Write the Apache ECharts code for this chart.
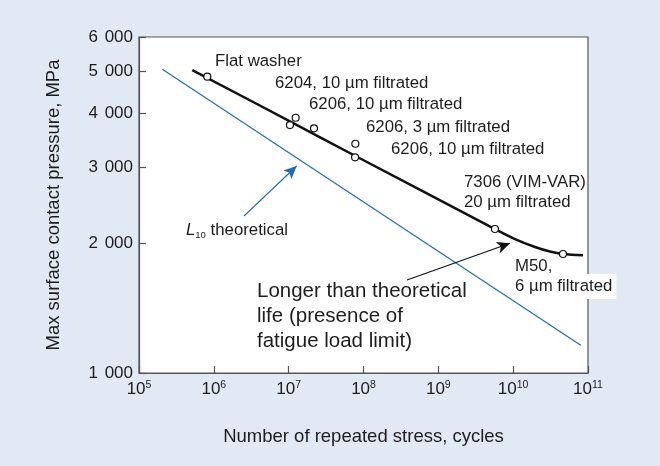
<!DOCTYPE html>
<html>
<head>
<meta charset="utf-8">
<script src="https://cdn.jsdelivr.net/npm/echarts@6/dist/echarts.min.js"></script>
<style>
  html, body { margin: 0; padding: 0; background: #e1e9f4; }
  #chart { width: 660px; height: 466px; }
</style>
</head>
<body>
<div id="chart"></div>
<script>
// Rolling contact fatigue: max contact pressure vs. number of stress cycles
const FONT = '"Liberation Sans", Arial, Helvetica, sans-serif';
const TEXT = '#1d1d1d';

// Experimental fatigue curve
const curveCycles   = [5.15e5, 1.04e7, 7.7e7, 5.71e9, 1.06e10, 1.96e10, 3.10e10, 4.63e10, 8.57e10];
const curvePressure = [5031,   3826,   3185,  2155,   2043,    1958,    1911,    1886,    1874];

// Individual test results
const testCycles   = [8.18e5, 1.24e7, 1.04e7, 2.18e7, 7.78e7, 7.71e7, 5.71e9, 4.63e10];
const testPressure = [4857,   3901,   3752,   3686,   3396,   3159,   2155,   1886];

// Theoretical L10 life line
const l10Cycles   = [2.05e5, 8.0e10];
const l10Pressure = [5050,   1159];

// Pointer arrows: [from, to]
const l10Arrow    = [[2.53e6, 2310], [1.28e7, 3016]];
const limitArrow  = [[3.81e8, 1642], [9.08e9, 1997]];

// Axis ticks
const xTicks = [1e5, 1e6, 1e7, 1e8, 1e9, 1e10, 1e11];
const yTicks = [1000, 2000, 3000, 4000, 5000, 6000];

const zip = (a, b) => a.map((v, i) => [v, b[i]]);

const chart = echarts.init(document.getElementById('chart'), null, { renderer: 'canvas' });

const NOTE_SIZE = 16.8;
const annot = (x, y, text, size, extra) => Object.assign({
  type: 'text', x: x, y: y, z: 100,
  style: Object.assign({
    text: text, fill: TEXT, font: size + 'px ' + FONT, verticalAlign: 'middle', align: 'left'
  }, extra || {})
});

const option = {
  animation: false,
  backgroundColor: '#e1e9f4',
  textStyle: { fontFamily: FONT },
  grid: {
    left: 139, right: 72, top: 37, bottom: 93,
    show: true, backgroundColor: '#ffffff', borderColor: '#555', borderWidth: 1.2
  },
  xAxis: {
    type: 'log', logBase: 10, min: 1e5, max: 1e11,
    name: 'Number of repeated stress, cycles',
    nameLocation: 'middle', nameGap: 54,
    nameTextStyle: { fontSize: 18.5, color: TEXT, fontFamily: FONT },
    axisLine: { lineStyle: { color: '#555', width: 1.2 } },
    axisTick: { inside: true, length: 7, lineStyle: { color: '#555', width: 1.2 }, customValues: xTicks },
    splitLine: { show: false },
    minorTick: { show: false },
    axisLabel: {
      margin: 7, customValues: xTicks,
      formatter: v => '{b|10}{s|' + Math.round(Math.log10(v)) + '}',
      rich: {
        b: { fontSize: 17, color: TEXT, fontFamily: FONT, lineHeight: 18 },
        s: { fontSize: 10.5, color: TEXT, fontFamily: FONT, lineHeight: 18, verticalAlign: 'top' }
      }
    }
  },
  yAxis: {
    type: 'log', logBase: 10, min: 1000, max: 6000,
    name: 'Max surface contact pressure, MPa',
    nameLocation: 'middle', nameGap: 76,
    nameTextStyle: { fontSize: 18.5, color: TEXT, fontFamily: FONT },
    axisLine: { lineStyle: { color: '#555', width: 1.2 } },
    axisTick: { inside: true, length: 7, lineStyle: { color: '#555', width: 1.2 }, customValues: yTicks },
    splitLine: { show: false },
    minorTick: { show: false },
    axisLabel: {
      margin: 6, customValues: yTicks, fontSize: 17, color: TEXT, fontFamily: FONT,
      formatter: v => {
        const n = Math.round(v);
        return Math.floor(n / 1000) + '\u2009\u2009' + String(n % 1000).padStart(3, '0');
      }
    }
  },
  series: [
    {
      name: 'L10', type: 'line', data: zip(l10Cycles, l10Pressure),
      symbol: 'none', lineStyle: { color: '#1f6db5', width: 1.2 }, z: 2,
      markLine: {
        silent: true, symbol: ['none', 'arrow'], symbolSize: [9, 13],
        label: { show: false },
        lineStyle: { color: '#1f6db5', width: 1.1, type: 'solid' },
        data: [[{ coord: l10Arrow[0] }, { coord: l10Arrow[1] }]]
      }
    },
    {
      name: 'Fatigue curve', type: 'line', data: zip(curveCycles, curvePressure),
      symbol: 'none', smooth: 0.35, lineStyle: { color: '#111', width: 2.5 }, z: 3,
      markLine: {
        silent: true, symbol: ['none', 'arrow'], symbolSize: [9, 13],
        label: { show: false },
        lineStyle: { color: '#111', width: 1.1, type: 'solid' },
        data: [[{ coord: limitArrow[0] }, { coord: limitArrow[1] }]]
      }
    },
    {
      name: 'Tests', type: 'scatter', data: zip(testCycles, testPressure),
      symbol: 'circle', symbolSize: 7, z: 4,
      itemStyle: { color: '#ffffff', borderColor: '#111', borderWidth: 1.2, opacity: 1 }
    }
  ],
  graphic: [
    annot(215, 61, 'Flat washer', NOTE_SIZE),
    annot(275, 83, '6204, 10 µm filtrated', NOTE_SIZE),
    annot(309, 104.5, '6206, 10 µm filtrated', NOTE_SIZE),
    annot(366, 127, '6206, 3 µm filtrated', NOTE_SIZE),
    annot(391, 149.5, '6206, 10 µm filtrated', NOTE_SIZE),
    annot(464, 182, '7306 (VIM-VAR)', NOTE_SIZE),
    annot(464, 202.5, '20 µm filtrated', NOTE_SIZE),
    annot(515, 266.5, 'M50,', NOTE_SIZE),
    annot(515, 286.5, '6 µm filtrated', NOTE_SIZE, { backgroundColor: '#ffffff', padding: [4, 4, 4, 0] }),
    {
      type: 'text', x: 186, y: 230.5, z: 100,
      style: {
        text: '{i|L}{sub|10}{n| theoretical}', verticalAlign: 'middle', align: 'left',
        rich: {
          i: { fontSize: NOTE_SIZE, fontStyle: 'italic', fontFamily: FONT, fill: TEXT, lineHeight: 20 },
          sub: { fontSize: 9.5, fontFamily: FONT, fill: TEXT, lineHeight: 20, verticalAlign: 'bottom' },
          n: { fontSize: NOTE_SIZE, fontFamily: FONT, fill: TEXT, lineHeight: 20 }
        }
      }
    },
    annot(257, 291.5, 'Longer than theoretical', 20.5),
    annot(257, 316.5, 'life (presence of', 20.5),
    annot(257, 341.5, 'fatigue load limit)', 20.5)
  ]
};

chart.setOption(option);
</script>
</body>
</html>
